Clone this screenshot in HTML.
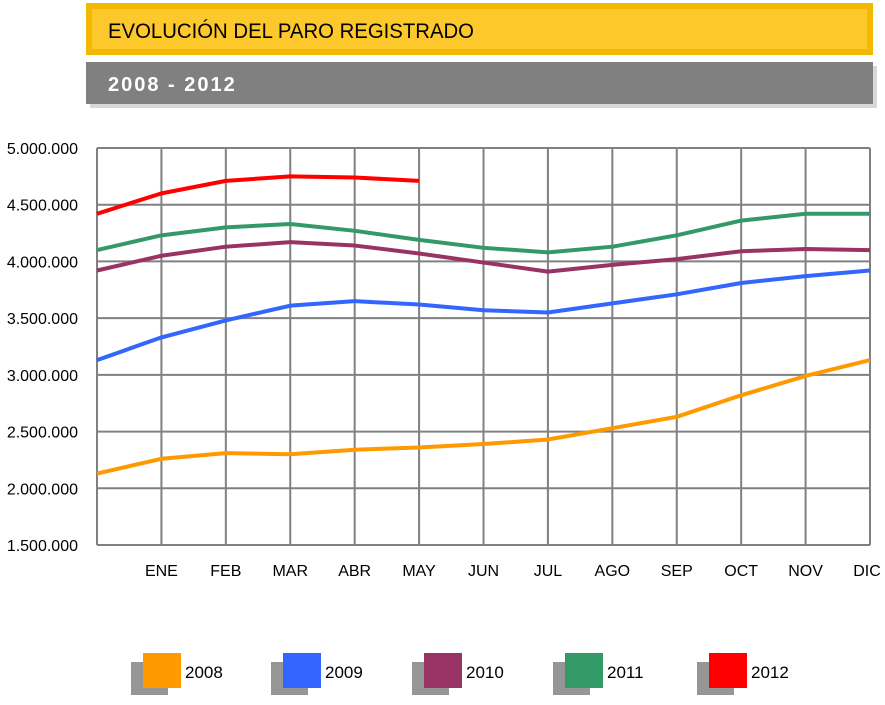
<!DOCTYPE html>
<html><head><meta charset="utf-8"><style>
body{margin:0;background:#fff;width:885px;height:705px;overflow:hidden;font-family:"Liberation Sans",sans-serif}
</style></head><body>
<svg width="885" height="705" style="position:absolute;left:0;top:0">
<rect x="86" y="3" width="787" height="52" fill="#f2b900"/>
<rect x="92" y="9" width="775" height="40" fill="#fdc82b"/>
<text x="108" y="38" font-size="21" fill="#000" textLength="366" lengthAdjust="spacingAndGlyphs">EVOLUCIÓN DEL PARO REGISTRADO</text>
<rect x="90" y="66" width="787" height="42" fill="#d8d8d8"/>
<rect x="86" y="62" width="787" height="42" fill="#808080"/>
<text x="108" y="91" font-size="20" font-weight="bold" fill="#fff" letter-spacing="2">2008 - 2012</text>
<g id="grid"></g><g id="lines"></g><g id="legend"></g>
</svg>
<script>
const months=["","ENE","FEB","MAR","ABR","MAY","JUN","JUL","AGO","SEP","OCT","NOV","DIC"];
const yTicks=[1500000,2000000,2500000,3000000,3500000,4000000,4500000,5000000];
const yTickLabels=["1.500.000","2.000.000","2.500.000","3.000.000","3.500.000","4.000.000","4.500.000","5.000.000"];
const years=["2008","2009","2010","2011","2012"];
const colors=["#ff9900","#3366ff","#993366","#339966","#ff0000"];
const s2008=[2.13,2.26,2.31,2.30,2.34,2.36,2.39,2.43,2.53,2.63,2.82,2.99,3.13];
const s2009=[3.13,3.33,3.48,3.61,3.65,3.62,3.57,3.55,3.63,3.71,3.81,3.87,3.92];
const s2010=[3.92,4.05,4.13,4.17,4.14,4.07,3.99,3.91,3.97,4.02,4.09,4.11,4.10];
const s2011=[4.10,4.23,4.30,4.33,4.27,4.19,4.12,4.08,4.13,4.23,4.36,4.42,4.42];
const s2012=[4.42,4.60,4.71,4.75,4.74,4.71];
const series=[s2008,s2009,s2010,s2011,s2012];
const NS="http://www.w3.org/2000/svg";
const X0=97,X1=870,Y0=545,Y1=148;
const x=i=>X0+(X1-X0)*i/12;
const y=v=>Y0-(Y0-Y1)*(v-1500000)/3500000;
function mk(t,a,p){const e=document.createElementNS(NS,t);for(const k in a)e.setAttribute(k,a[k]);p.appendChild(e);return e;}
const g=document.getElementById('grid');
yTicks.forEach((v,i)=>{
 const l=mk('line',{x1:X0,x2:X1,y1:y(v),y2:y(v),stroke:'#808080','stroke-width':2},g);
 
 
 const t=mk('text',{x:78,y:y(v)+6,'font-size':16,'text-anchor':'end',fill:'#000'},g);
 t.textContent=yTickLabels[i];
 
 
});
months.forEach((m,i)=>{
 const l=mk('line',{x1:x(i),x2:x(i),y1:Y1,y2:Y0,stroke:'#808080','stroke-width':2},g);
 
 
 if(m){const t=mk('text',{x:Math.min(x(i),867),y:576,'font-size':16,'text-anchor':'middle',fill:'#000'},g);
 t.textContent=m;
 
 }
});
const lg=document.getElementById('lines');
series.forEach((s,k)=>{
 const p=mk('polyline',{points:s.map((v,i)=>x(i)+','+y(v*1e6)).join(' '),fill:'none',stroke:colors[k],'stroke-width':4,'stroke-linejoin':'round'},lg);
 
 
});
const leg=document.getElementById('legend');
const lx=[143,283,424,565,709];
years.forEach((yr,k)=>{
 const gg=mk('g',{},leg);
 
 
 mk('rect',{x:lx[k]-12,y:662,width:37,height:33,fill:'#969696'},gg);
 mk('rect',{x:lx[k],y:653,width:38,height:35,fill:colors[k]},gg);
 const t=mk('text',{x:lx[k]+42,y:678,'font-size':17,fill:'#000'},gg);
 t.textContent=yr;
});
</script>
</body></html>
